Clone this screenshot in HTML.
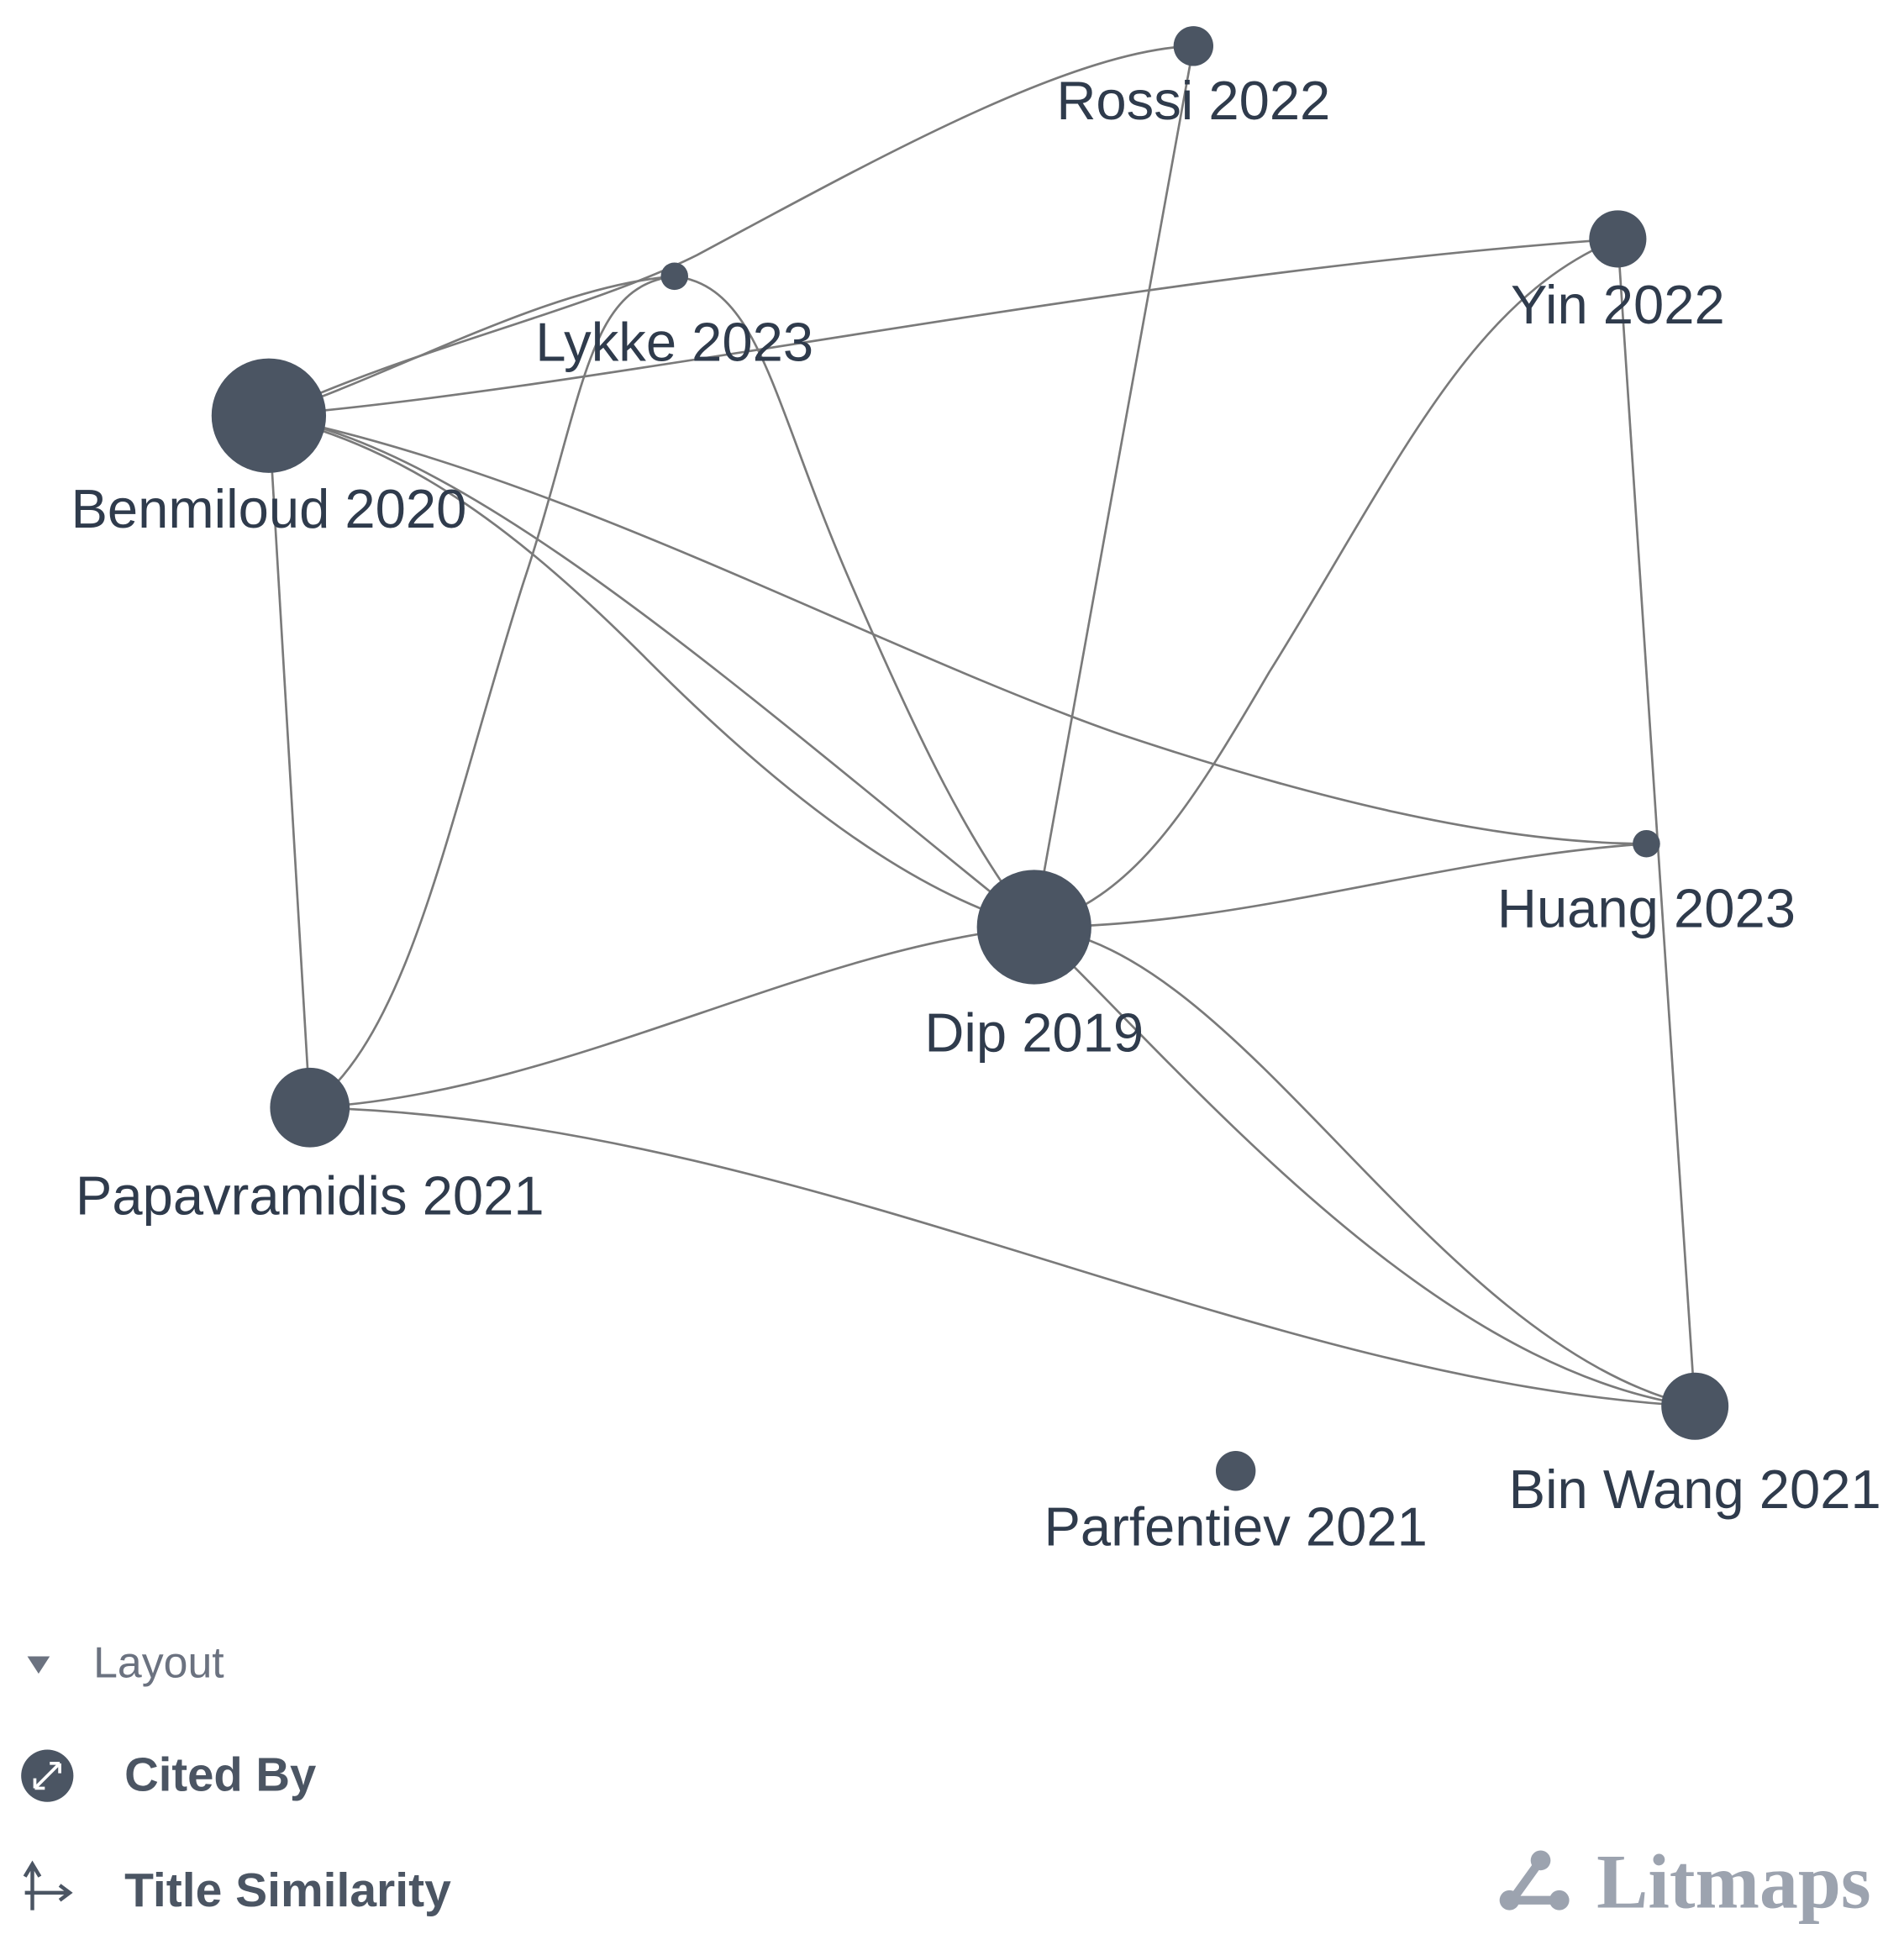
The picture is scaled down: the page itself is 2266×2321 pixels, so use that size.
<!DOCTYPE html>
<html><head><meta charset="utf-8"><style>
html,body{margin:0;padding:0;background:#fff;width:2266px;height:2321px;overflow:hidden}
svg{display:block}
</style></head><body>
<svg width="2266" height="2321" viewBox="0 0 1530 1567" preserveAspectRatio="none" xmlns="http://www.w3.org/2000/svg">
<g fill="none" stroke="#7a7a7a" stroke-width="1.8">
<path d="M216,334 C330,280 470,250 560,205 C700,130 860,40 959,37"/>
<path d="M216,334 C320,300 440,230 542,222"/>
<path d="M216,334 C500,310 900,220 1300,192"/>
<path d="M216,334 C450,380 700,520 900,590 C1050,640 1200,678 1323,678"/>
<path d="M216,334 C330,360 420,430 520,530 C640,650 740,720 831,745"/>
<path d="M216,334 C380,360 600,560 831,745"/>
<path d="M831,745 C960,870 1150,1100 1362,1130"/>
<path d="M216,334 L249,890"/>
<path d="M542,222 C470,230 470,320 420,470 C360,660 330,830 249,890"/>
<path d="M542,222 C610,230 620,320 680,460 C740,600 780,680 831,745"/>
<path d="M959,37 C920,260 870,520 831,745"/>
<path d="M1300,192 C1180,240 1120,380 1020,540 C950,660 910,720 831,745"/>
<path d="M1300,192 L1362,1130"/>
<path d="M1323,678 C1150,690 1000,745 831,745"/>
<path d="M831,745 C650,760 450,880 249,890"/>
<path d="M249,890 C650,900 1000,1110 1362,1130"/>
<path d="M831,745 C1000,760 1150,1080 1362,1130"/>
</g>
<g fill="#4b5563">
<circle cx="959" cy="37" r="16"/>
<circle cx="542" cy="222" r="11"/>
<circle cx="1300" cy="192" r="23"/>
<circle cx="216" cy="334" r="46"/>
<circle cx="1323" cy="678" r="11"/>
<circle cx="831" cy="745" r="46"/>
<circle cx="249" cy="890" r="32"/>
<circle cx="1362" cy="1130" r="27"/>
<circle cx="993" cy="1182" r="16"/>
</g>
<g font-family="Liberation Sans, sans-serif" font-size="44" fill="#2f3b4c" text-anchor="middle">
<text x="959" y="96">Rossi 2022</text>
<text x="542" y="290">Lykke 2023</text>
<text x="1300" y="260">Yin 2022</text>
<text x="216" y="424">Benmiloud 2020</text>
<text x="1323" y="745">Huang 2023</text>
<text x="831" y="845">Dip 2019</text>
<text x="249" y="976">Papavramidis 2021</text>
<text x="1362" y="1212">Bin Wang 2021</text>
<text x="993" y="1242">Parfentiev 2021</text>
</g>
<polygon points="22,1331 40,1331 31,1345" fill="#6b7280"/>
<text x="75" y="1348" font-family="Liberation Sans, sans-serif" font-size="35" fill="#6b7280">Layout</text>
<circle cx="38" cy="1427" r="21" fill="#4b5563"/>
<g stroke="#fff" stroke-width="2.5" fill="none"><path d="M28,1437 L48,1417 M28,1437 l0,-8 M28,1437 l8,0 M48,1417 l-8,0 M48,1417 l0,8"/></g>
<text x="100" y="1439" font-family="Liberation Sans, sans-serif" font-size="38" fill="#4b5563" font-weight="bold">Cited By</text>
<g stroke="#4b5563" stroke-width="3" fill="none"><path d="M26,1535 L26,1500 M20,1508 L26,1498 L32,1508 M20,1521 L54,1521 M48,1515 L56,1521 L48,1527"/></g>
<text x="100" y="1532" font-family="Liberation Sans, sans-serif" font-size="38.5" fill="#4b5563" font-weight="bold">Title Similarity</text>
<g stroke="#9ca3af" stroke-width="7" fill="none" stroke-linecap="round"><path d="M1238,1495 L1215,1527 L1252,1527"/></g>
<g fill="#9ca3af"><circle cx="1238" cy="1495" r="8"/><circle cx="1213" cy="1527" r="8"/><circle cx="1253" cy="1527" r="8"/></g>
<text x="1283" y="1533" font-family="Liberation Serif, serif" font-size="62" font-weight="bold" fill="#9ca3af">Litmaps</text>
</svg>
</body></html>
